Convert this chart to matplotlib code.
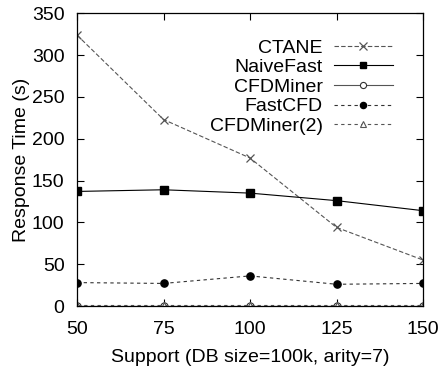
import matplotlib
matplotlib.use("Agg")
import matplotlib.pyplot as plt

support = [50, 75, 100, 125, 150]
ctane = [324, 223, 177, 94, 55]
naivefast = [137, 139, 135, 126, 114]
cfdminer = [0.5, 0.5, 0.5, 0.5, 0.5]
fastcfd = [28, 27, 36, 26, 27]
cfdminer2 = [1.5, 1.5, 1.5, 1.5, 1.5]

plt.rcParams['font.family'] = ['Liberation Sans', 'DejaVu Sans']

fig = plt.figure(figsize=(4.41, 3.72), dpi=100)
ax = fig.add_axes([0.1746, 0.1774, 0.7846, 0.7868])

ax.plot(support, ctane, color='#555555', lw=0.8, ls=(0, (4, 2)), marker='x',
        ms=6, mew=0.9, label='CTANE')
ax.plot(support, naivefast, color='black', lw=0.8, ls='-', marker='s',
        ms=5.2, label='NaiveFast')
ax.plot(support, cfdminer, color='#555555', lw=0.8, ls='-', marker='o',
        ms=5.2, mfc='white', mec='#333333', mew=0.8, label='CFDMiner')
ax.plot(support, fastcfd, color='#333333', lw=0.8, ls=(0, (3, 3)), marker='o',
        ms=5.2, mfc='black', mec='black', label='FastCFD')
ax.plot(support, cfdminer2, color='#555555', lw=0.8, ls=(0, (3, 3)), marker='^',
        ms=4.5, mfc='white', mec='#555555', mew=0.8, label='CFDMiner(2)')

ax.set_xlim(50, 150)
ax.set_ylim(0, 350)
ax.set_xticks(support)
ax.set_yticks(range(0, 351, 50))
ax.tick_params(direction='in', top=True, right=True, length=5, width=0.8,
               labelsize=14)
ax.tick_params(axis='x', pad=11)
ax.tick_params(axis='y', pad=9)
for s in ax.spines.values():
    s.set_linewidth(0.9)

ax.set_xlabel('Support (DB size=100k, arity=7)', fontsize=14, labelpad=8)
ax.set_ylabel('Response Time (s)', fontsize=14, labelpad=1.5)

ax.legend(loc='upper right', bbox_to_anchor=(0.94, 0.945), frameon=False,
          markerfirst=False, fontsize=14, handlelength=3.0, handletextpad=0.6,
          labelspacing=0.1, borderpad=0, markerscale=0.85)

fig.savefig('out.png', dpi=100)
